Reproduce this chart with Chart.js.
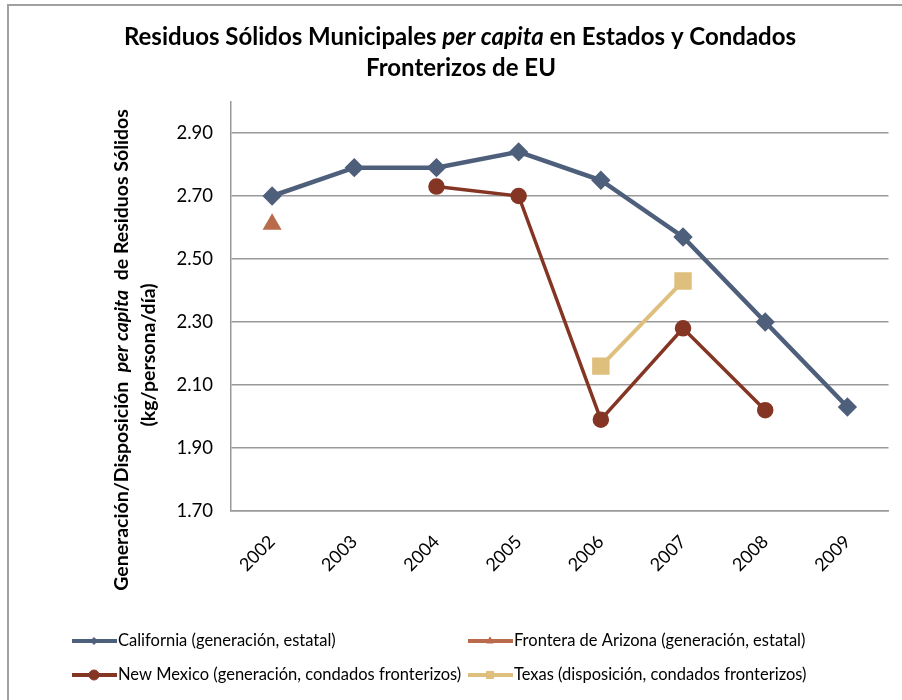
<!DOCTYPE html>
<html>
<head>
<meta charset="utf-8">
<script src="https://cdn.jsdelivr.net/npm/chart.js@4.4.1/dist/chart.umd.min.js"></script>
<style>
  body { margin: 0; background: #fff; }
  #wrap { position: relative; width: 902px; height: 700px; }
  #frame { position: absolute; left: 7px; top: 4px; width: 895px; height: 696px;
           border-top: 2px solid #a0a0a0; border-left: 2px solid #a0a0a0; box-sizing: border-box; pointer-events: none; }
</style>
</head>
<body>
<div id="wrap">
  <canvas id="chart" width="902" height="700"></canvas>
  <div id="frame"></div>
</div>
<script>
// Data
const years = ['2002', '2003', '2004', '2005', '2006', '2007', '2008', '2009'];
const california = [2.70, 2.79, 2.79, 2.84, 2.75, 2.57, 2.30, 2.03];
const arizona = [2.61, null, null, null, null, null, null, null];
const newMexico = [null, null, 2.73, 2.70, 1.99, 2.28, 2.02, null];
const texas = [null, null, null, null, 2.16, 2.43, null, null];
const yTicks = [1.70, 1.90, 2.10, 2.30, 2.50, 2.70, 2.90];

const seriesNames = [
    'California (generación, estatal)',
    'Frontera de Arizona (generación, estatal)',
    'New Mexico (generación, condados fronterizos)',
    'Texas (disposición, condados fronterizos)'
];

const FONT = 'Lato';

// Draw a line of text made of several runs (bold / italic parts), centered on cx
function drawRuns(ctx, runs, cx, cy) {
    let total = 0;
    for (let r of runs) {
        ctx.font = r.font;
        total += ctx.measureText(r.text).width;
    }
    let x = cx - total / 2;
    ctx.textAlign = 'left';
    ctx.textBaseline = 'middle';
    for (let r of runs) {
        ctx.font = r.font;
        ctx.fillText(r.text, x, cy);
        x += ctx.measureText(r.text).width;
    }
}

const textPlugin = {
    id: 'textPlugin',
    afterDraw(chart) {
        const ctx = chart.ctx;
        ctx.save();
        ctx.fillStyle = '#000';

        // Chart title
        const tb = 'bold 24px ' + FONT;
        const ti = 'italic bold 24px ' + FONT;
        drawRuns(ctx, [
            { text: 'Residuos Sólidos Municipales ', font: tb },
            { text: 'per capita', font: ti },
            { text: ' en Estados y Condados', font: tb }
        ], 460, 37);
        drawRuns(ctx, [{ text: 'Fronterizos de EU', font: tb }], 461, 68);

        // Y axis title (rotated)
        const yb = 'bold 19.5px ' + FONT;
        const yi = 'italic bold 19.5px ' + FONT;
        ctx.save();
        ctx.translate(122, 350);
        ctx.rotate(-Math.PI / 2);
        drawRuns(ctx, [
            { text: 'Generación/Disposición  ', font: yb },
            { text: 'per capita', font: yi },
            { text: '  de Residuos Sólidos', font: yb }
        ], 0, 0);
        ctx.restore();
        ctx.save();
        ctx.translate(149, 355);
        ctx.rotate(-Math.PI / 2);
        drawRuns(ctx, [{ text: '(kg/persona/día)', font: yb }], 0, 0);
        ctx.restore();

        // Legend, two columns
        const slots = [
            { x: 72, y: 641 }, { x: 468, y: 641 },
            { x: 72, y: 675 }, { x: 468, y: 675 }
        ];
        const markerSize = [3.5, 4, 5, 5];
        chart.data.datasets.forEach((ds, i) => {
            const s = slots[i];
            ctx.strokeStyle = ds.borderColor;
            ctx.lineWidth = 4;
            ctx.beginPath();
            ctx.moveTo(s.x, s.y);
            ctx.lineTo(s.x + 45, s.y);
            ctx.stroke();
            ctx.fillStyle = ds.borderColor;
            ctx.strokeStyle = ds.borderColor;
            ctx.lineWidth = 1;
            Chart.helpers.drawPoint(ctx, {
                pointStyle: ds.pointStyle, radius: markerSize[i], rotation: 0, borderWidth: 1
            }, s.x + 22, s.y);
            ctx.fillStyle = '#000';
            ctx.font = '16.5px ' + FONT;
            ctx.textAlign = 'left';
            ctx.textBaseline = 'middle';
            ctx.fillText(ds.label, s.x + 46, s.y);
        });
        ctx.restore();
    }
};

new Chart(document.getElementById('chart'), {
    type: 'line',
    data: {
        labels: years,
        datasets: [
            {
                label: seriesNames[0], data: california,
                borderColor: '#4E5F7B', backgroundColor: '#4E5F7B', borderWidth: 4.5,
                pointStyle: 'rectRot', pointRadius: 6.5, pointHoverRadius: 6.5
            },
            {
                label: seriesNames[1], data: arizona,
                borderColor: '#B96B4C', backgroundColor: '#B96B4C', borderWidth: 4,
                pointStyle: 'triangle', pointRadius: 7, pointHoverRadius: 7
            },
            {
                label: seriesNames[2], data: newMexico,
                borderColor: '#843523', backgroundColor: '#843523', borderWidth: 3.5,
                pointStyle: 'circle', pointRadius: 6.5, pointHoverRadius: 6.5
            },
            {
                label: seriesNames[3], data: texas,
                borderColor: '#DFBF7E', backgroundColor: '#DFBF7E', borderWidth: 4,
                pointStyle: 'rect', pointRadius: 9.5, pointHoverRadius: 9.5
            }
        ]
    },
    options: {
        responsive: false,
        animation: false,
        events: [],
        layout: { padding: { left: 0, top: 101.5, right: 13, bottom: 0 } },
        plugins: {
            legend: { display: false },
            title: { display: false },
            tooltip: { enabled: false }
        },
        scales: {
            x: {
                offset: true,
                grid: { display: false },
                border: { display: true, color: '#999', width: 1.5 },
                ticks: {
                    color: '#000', font: { family: FONT, size: 18 },
                    minRotation: 45, maxRotation: 45, padding: 12
                },
                afterFit(scale) { scale.height = 189; }
            },
            y: {
                min: 1.7, max: 3.0,
                grid: { color: '#999', lineWidth: 1.5, drawTicks: false },
                border: { display: true, color: '#999', width: 1.5 },
                ticks: {
                    color: '#000', font: { family: FONT, size: 18.5 }, padding: 18,
                    callback: v => v.toFixed(2)
                },
                afterBuildTicks(scale) { scale.ticks = yTicks.map(v => ({ value: v })); },
                afterFit(scale) { scale.width = 231; }
            }
        }
    },
    plugins: [textPlugin]
});
</script>
</body>
</html>
